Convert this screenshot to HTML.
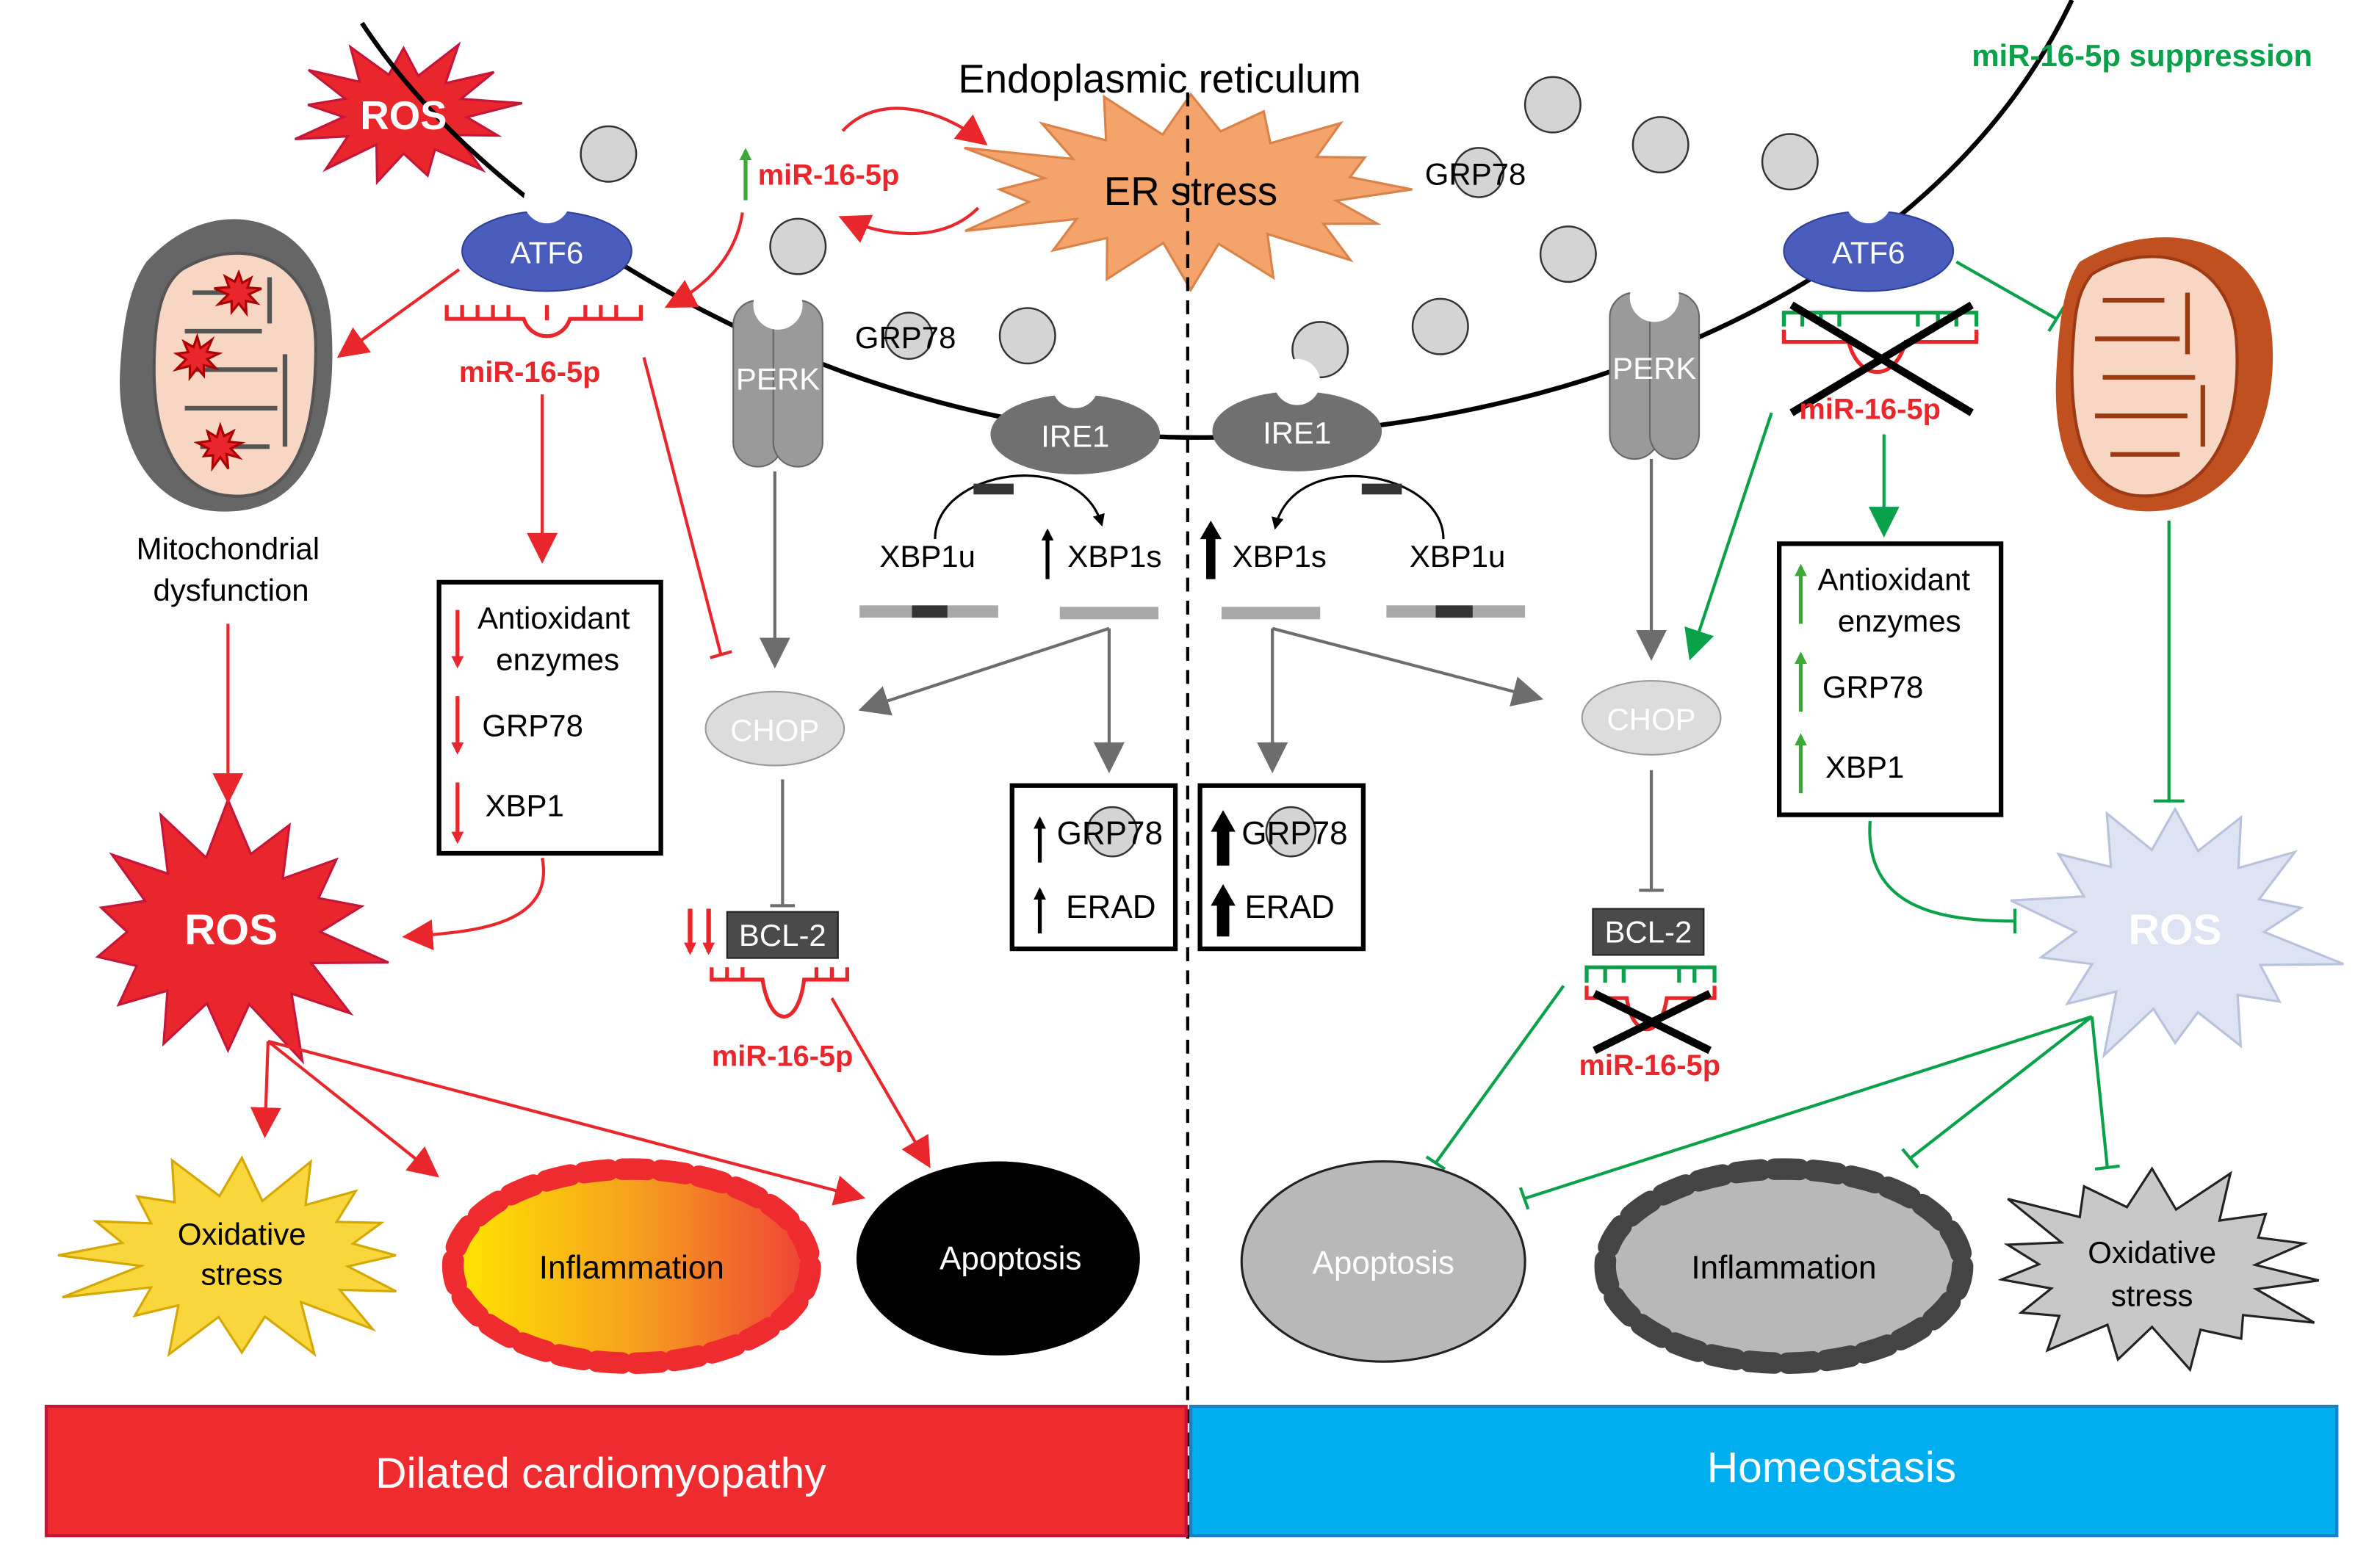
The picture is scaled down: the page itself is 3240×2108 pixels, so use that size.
<!DOCTYPE html>
<html><head><meta charset="utf-8"><style>
html,body{margin:0;padding:0;background:#fff;}
svg{display:block;font-family:"Liberation Sans",Arial,sans-serif;}
</style></head><body>
<svg id="s" width="3240" height="2108" viewBox="0 0 1545 1005" preserveAspectRatio="none" xmlns="http://www.w3.org/2000/svg">
<defs>
<marker id="ar" markerWidth="8" markerHeight="8" refX="6" refY="4" orient="auto" markerUnits="userSpaceOnUse" viewBox="0 0 8 8"><path d="M0,0L8,4L0,8z" fill="#e8262b"/></marker>
<marker id="ag" markerWidth="8" markerHeight="8" refX="6" refY="4" orient="auto" markerUnits="userSpaceOnUse" viewBox="0 0 8 8"><path d="M0,0L8,4L0,8z" fill="#3aa935"/></marker>
<marker id="arB" markerWidth="20" markerHeight="20" refX="16" refY="10" orient="auto" markerUnits="userSpaceOnUse" viewBox="0 0 20 20"><path d="M0,0L20,10L0,20z" fill="#e8262b"/></marker>
<marker id="agB" markerWidth="20" markerHeight="20" refX="16" refY="10" orient="auto" markerUnits="userSpaceOnUse" viewBox="0 0 20 20"><path d="M0,0L20,10L0,20z" fill="#0aa14b"/></marker>
<marker id="gyB" markerWidth="20" markerHeight="20" refX="16" refY="10" orient="auto" markerUnits="userSpaceOnUse" viewBox="0 0 20 20"><path d="M0,0L20,10L0,20z" fill="#6d6d6d"/></marker>
<marker id="bk" markerWidth="8" markerHeight="8" refX="6" refY="4" orient="auto" markerUnits="userSpaceOnUse" viewBox="0 0 8 8"><path d="M0,0L8,4L0,8z" fill="#000"/></marker>
<linearGradient id="gi" x1="0" x2="1"><stop offset="0" stop-color="#ffe600"/><stop offset="0.5" stop-color="#f6a21d"/><stop offset="1" stop-color="#ee4136"/></linearGradient>
</defs>
<g id="stars"></g>
<path d="M235,15 C330,160 560,282 770,284 C1010,286 1255,190 1345,0" fill="none" stroke="#000" stroke-width="3"/>
<line x1="771" y1="60" x2="771" y2="1000" stroke="#000" stroke-width="2" stroke-dasharray="9,6"/>
<text x="622" y="60" font-size="26">Endoplasmic reticulum</text>
<g fill="#d4d4d4" stroke="#333" stroke-width="1.2">
<circle cx="395" cy="100" r="18"/><circle cx="518" cy="160" r="18"/><circle cx="667" cy="218" r="18"/><circle cx="590" cy="218" r="15"/>
<circle cx="1008" cy="68" r="18"/><circle cx="1078" cy="94" r="18"/><circle cx="1162" cy="105" r="18"/><circle cx="960" cy="112" r="16"/>
<circle cx="1018" cy="165" r="18"/><circle cx="935" cy="212" r="18"/><circle cx="857" cy="227" r="18"/>
<circle cx="722" cy="540" r="16"/><circle cx="838" cy="540" r="16"/>
</g>
<g font-size="20"><text x="555" y="226">GRP78</text><text x="925" y="120">GRP78</text></g>
<ellipse cx="355" cy="163" rx="55" ry="26" fill="#4a5dbd" stroke="#2f3f95"/>
<circle cx="355" cy="130" r="15" fill="#fff"/>
<text x="355" y="171" font-size="20" fill="#fff" text-anchor="middle">ATF6</text>
<ellipse cx="1213" cy="163" rx="55" ry="26" fill="#4a5dbd" stroke="#2f3f95"/>
<circle cx="1213" cy="130" r="15" fill="#fff"/>
<text x="1213" y="171" font-size="20" fill="#fff" text-anchor="middle">ATF6</text>
<g fill="#9a9a9a" stroke="#666">
<rect x="476" y="195" width="32" height="108" rx="16"/><rect x="502" y="195" width="32" height="108" rx="16"/>
<rect x="1045" y="190" width="32" height="108" rx="16"/><rect x="1071" y="190" width="32" height="108" rx="16"/>
</g>
<circle cx="505" cy="198" r="16" fill="#fff"/><circle cx="1074" cy="193" r="16" fill="#fff"/>
<text x="505" y="253" font-size="20" fill="#fff" text-anchor="middle">PERK</text>
<text x="1074" y="246" font-size="20" fill="#fff" text-anchor="middle">PERK</text>
<ellipse cx="698" cy="282" rx="55" ry="26" fill="#707070"/><circle cx="698" cy="250" r="15" fill="#fff"/>
<text x="698" y="290" font-size="20" fill="#fff" text-anchor="middle">IRE1</text>
<ellipse cx="842" cy="280" rx="55" ry="26" fill="#707070"/><circle cx="842" cy="248" r="15" fill="#fff"/>
<text x="842" y="288" font-size="20" fill="#fff" text-anchor="middle">IRE1</text>
<path d="M607,350 C607,305 700,290 715,340" fill="none" stroke="#000" stroke-width="1.5" marker-end="url(#bk)"/>
<rect x="632" y="314" width="26" height="7" fill="#333"/>
<path d="M937,350 C937,305 840,290 828,342" fill="none" stroke="#000" stroke-width="1.5" marker-end="url(#bk)"/>
<rect x="884" y="314" width="26" height="7" fill="#333"/>
<g font-size="20"><text x="571" y="368">XBP1u</text><text x="693" y="368">XBP1s</text><text x="800" y="368">XBP1s</text><text x="915" y="368">XBP1u</text></g>
<line x1="680" y1="376" x2="680" y2="345" stroke="#000" stroke-width="2.5" marker-end="url(#bk)"/>
<path d="M779,350 L786,338 L793,350 L789,350 L789,376 L783,376 L783,350z" fill="#000"/>
<g stroke-width="8">
<line x1="558" y1="397" x2="648" y2="397" stroke="#a8a8a8"/><line x1="592" y1="397" x2="615" y2="397" stroke="#333"/>
<line x1="688" y1="398" x2="752" y2="398" stroke="#a8a8a8"/>
<line x1="793" y1="398" x2="857" y2="398" stroke="#a8a8a8"/>
<line x1="900" y1="397" x2="990" y2="397" stroke="#a8a8a8"/><line x1="932" y1="397" x2="956" y2="397" stroke="#333"/>
</g>
<g stroke="#6d6d6d" stroke-width="2" fill="none">
<line x1="503" y1="306" x2="503" y2="430" marker-end="url(#gyB)"/>
<polyline points="720,408 561,460" marker-end="url(#gyB)"/>
<polyline points="720,408 720,498" marker-end="url(#gyB)"/>
<polyline points="826,408 826,498" marker-end="url(#gyB)"/>
<polyline points="826,408 998,453" marker-end="url(#gyB)"/>
<line x1="1072" y1="298" x2="1072" y2="425" marker-end="url(#gyB)"/>
<line x1="508" y1="506" x2="508" y2="588"/><line x1="500" y1="588" x2="516" y2="588"/>
<line x1="1072" y1="500" x2="1072" y2="578"/><line x1="1064" y1="578" x2="1080" y2="578"/>
</g>
<ellipse cx="503" cy="473" rx="45" ry="24" fill="#dcdcdc" stroke="#999"/><text x="503" y="481" font-size="20" fill="#fff" text-anchor="middle">CHOP</text>
<ellipse cx="1072" cy="466" rx="45" ry="24" fill="#dcdcdc" stroke="#999"/><text x="1072" y="474" font-size="20" fill="#fff" text-anchor="middle">CHOP</text>
<rect x="472" y="592" width="72" height="30" fill="#4a4a4a" stroke="#222"/><text x="508" y="614" font-size="20" fill="#fff" text-anchor="middle">BCL-2</text>
<rect x="1034" y="590" width="72" height="30" fill="#4a4a4a" stroke="#222"/><text x="1070" y="612" font-size="20" fill="#fff" text-anchor="middle">BCL-2</text>
<g fill="none" stroke="#000" stroke-width="3"><rect x="657" y="510" width="106" height="106"/><rect x="779" y="510" width="106" height="106"/>
<rect x="285" y="378" width="144" height="176"/><rect x="1155" y="353" width="144" height="176"/></g>
<g font-size="21"><text x="686" y="548">GRP78</text><text x="692" y="596">ERAD</text><text x="806" y="548">GRP78</text><text x="808" y="596">ERAD</text></g>
<line x1="675" y1="560" x2="675" y2="532" stroke="#000" stroke-width="2.5" marker-end="url(#bk)"/>
<line x1="675" y1="606" x2="675" y2="578" stroke="#000" stroke-width="2.5" marker-end="url(#bk)"/>
<path d="M786,540 L794,526 L802,540 L798,540 L798,562 L790,562 L790,540z" fill="#000"/>
<path d="M786,588 L794,574 L802,588 L798,588 L798,608 L790,608 L790,588z" fill="#000"/>
<g font-size="20"><text x="310" y="408">Antioxidant</text><text x="322" y="435">enzymes</text><text x="313" y="478">GRP78</text><text x="315" y="530">XBP1</text>
<text x="1180" y="383">Antioxidant</text><text x="1193" y="410">enzymes</text><text x="1183" y="453">GRP78</text><text x="1185" y="505">XBP1</text></g>
<g stroke="#e8262b" stroke-width="2.5"><line x1="297" y1="396" x2="297" y2="432" marker-end="url(#ar)"/><line x1="297" y1="452" x2="297" y2="488" marker-end="url(#ar)"/><line x1="297" y1="508" x2="297" y2="546" marker-end="url(#ar)"/></g>
<g stroke="#3aa935" stroke-width="2.5"><line x1="1169" y1="405" x2="1169" y2="368" marker-end="url(#ag)"/><line x1="1169" y1="462" x2="1169" y2="425" marker-end="url(#ag)"/><line x1="1169" y1="515" x2="1169" y2="478" marker-end="url(#ag)"/>
<line x1="484" y1="130" x2="484" y2="98" marker-end="url(#ag)"/></g>
<g stroke="#e8262b" stroke-width="3"><line x1="448" y1="590" x2="448" y2="618" marker-end="url(#ar)"/><line x1="460" y1="590" x2="460" y2="618" marker-end="url(#ar)"/></g>
<g fill="none" stroke="#e8262b" stroke-width="2.5">
<path d="M290,198 L290,207 L340,207 C345,222 365,222 370,207 L416,207 L416,198"/>
<path d="M300,198v9M310,198v9M320,198v9M330,198v9M380,198v9M390,198v9M400,198v9M355,198v10"/>
<path d="M462,628 L462,636 L495,636 C500,668 518,668 522,636 L550,636 L550,628"/>
<path d="M472,628v8M482,628v8M530,628v8M540,628v8"/>
<path d="M1158,214 L1158,222 L1200,222 C1207,248 1230,248 1237,222 L1283,222 L1283,214"/>
<path d="M1030,640 L1030,648 L1056,648 C1060,675 1078,675 1082,648 L1113,648 L1113,640"/>
</g>
<g fill="none" stroke="#0aa14b" stroke-width="2.5">
<path d="M1158,212 L1158,203 L1283,203 L1283,212M1170,203v9M1182,203v9M1194,203v9M1245,203v9M1258,203v9M1270,203v9"/>
<path d="M1030,638 L1030,628 L1113,628 L1113,638M1042,628v10M1054,628v10M1090,628v10M1100,628v10"/>
</g>
<g stroke="#000" stroke-width="5"><line x1="1163" y1="198" x2="1280" y2="268"/><line x1="1280" y1="198" x2="1163" y2="268"/>
<line x1="1035" y1="645" x2="1110" y2="682"/><line x1="1110" y1="645" x2="1035" y2="682"/></g>
<g fill="#e8262b" font-size="19" font-weight="bold"><text x="492" y="120">miR-16-5p</text><text x="298" y="248">miR-16-5p</text><text x="462" y="692">miR-16-5p</text>
<text x="1168" y="272">miR-16-5p</text><text x="1025" y="698">miR-16-5p</text></g>
<text x="1280" y="43" font-size="20" font-weight="bold" fill="#0aa14b">miR-16-5p suppression</text>
<g stroke="#e8262b" stroke-width="2" fill="none">
<path d="M547,85 C570,60 610,70 638,92" marker-end="url(#arB)"/>
<path d="M635,135 C610,160 570,152 548,142" marker-end="url(#arB)"/>
<path d="M482,138 C478,165 460,185 435,198" marker-end="url(#arB)"/>
<line x1="298" y1="175" x2="222" y2="230" marker-end="url(#arB)"/>
<line x1="352" y1="256" x2="352" y2="362" marker-end="url(#arB)"/>
<line x1="418" y1="232" x2="468" y2="425"/><line x1="461" y1="427" x2="475" y2="423"/>
<line x1="148" y1="405" x2="148" y2="518" marker-end="url(#arB)"/>
<path d="M352,557 C360,600 310,605 265,608" marker-end="url(#arB)"/>
<line x1="174" y1="676" x2="172" y2="735" marker-end="url(#arB)"/>
<line x1="174" y1="676" x2="282" y2="762" marker-end="url(#arB)"/>
<line x1="174" y1="676" x2="558" y2="777" marker-end="url(#arB)"/>
<line x1="540" y1="648" x2="602" y2="755" marker-end="url(#arB)"/>
</g>
<g stroke="#0aa14b" stroke-width="2" fill="none">
<line x1="1270" y1="170" x2="1335" y2="207"/><line x1="1330" y1="215" x2="1340" y2="199"/>
<line x1="1223" y1="282" x2="1223" y2="345" marker-end="url(#agB)"/>
<line x1="1150" y1="268" x2="1098" y2="425" marker-end="url(#agB)"/>
<line x1="1408" y1="338" x2="1408" y2="520"/><line x1="1398" y1="520" x2="1418" y2="520"/>
<path d="M1214,533 C1210,590 1260,598 1308,598"/><line x1="1308" y1="590" x2="1308" y2="606"/>
<line x1="1015" y1="640" x2="932" y2="755"/><line x1="926" y1="751" x2="938" y2="759"/>
<line x1="1358" y1="660" x2="990" y2="778"/><line x1="987" y1="771" x2="992" y2="785"/>
<line x1="1358" y1="660" x2="1240" y2="752"/><line x1="1235" y1="746" x2="1245" y2="758"/>
<line x1="1358" y1="660" x2="1368" y2="758"/><line x1="1360" y1="759" x2="1376" y2="757"/>
</g>
<g>
<path d="M95,170 C140,120 210,140 215,210 C220,280 200,330 150,332 C100,335 75,290 78,240 C80,205 85,185 95,170z" fill="#666"/>
<path d="M118,175 C160,150 205,170 205,225 C205,285 190,325 150,322 C115,320 100,285 100,240 C100,205 105,185 118,175z" fill="#f7d6c4" stroke="#555" stroke-width="2"/>
<path d="M125,190 h25 M120,215 h50 M125,240 h55 M120,265 h60 M130,290 h45 M175,180 v30 M185,230 v60" stroke="#555" stroke-width="3" fill="none"/>
</g>
<g id="spots"></g>
<g>
<path d="M1350,170 C1400,140 1470,150 1475,220 C1480,290 1440,332 1395,332 C1345,332 1332,290 1335,240 C1337,205 1340,185 1350,170z" fill="#c0501f"/>
<path d="M1358,178 C1395,155 1450,165 1452,225 C1455,285 1430,322 1392,322 C1355,322 1345,285 1345,240 C1346,205 1348,190 1358,178z" fill="#f7d6c4" stroke="#9c3a14" stroke-width="2"/>
<path d="M1365,195 h40 M1360,220 h55 M1365,245 h60 M1360,270 h60 M1370,295 h45 M1420,190 v40 M1430,250 v40" stroke="#9c3a14" stroke-width="3" fill="none"/>
</g>
<text x="148" y="363" font-size="20" text-anchor="middle">Mitochondrial</text>
<text x="150" y="390" font-size="20" text-anchor="middle">dysfunction</text>
<ellipse cx="410" cy="822" rx="116" ry="63" fill="url(#gi)" stroke="#ee2b2f" stroke-width="14" stroke-dasharray="16,9" stroke-linecap="round"/>
<text x="410" y="830" font-size="21" text-anchor="middle">Inflammation</text>
<ellipse cx="648" cy="817" rx="92" ry="63" fill="#000"/>
<text x="656" y="824" font-size="21" fill="#fff" text-anchor="middle">Apoptosis</text>
<ellipse cx="898" cy="819" rx="92" ry="65" fill="#b8b8b8" stroke="#222" stroke-width="1.5"/>
<text x="898" y="827" font-size="21" fill="#fff" text-anchor="middle">Apoptosis</text>
<ellipse cx="1158" cy="822" rx="116" ry="63" fill="#b8b8b8" stroke="#444" stroke-width="14" stroke-dasharray="16,9" stroke-linecap="round"/>
<text x="1158" y="830" font-size="21" text-anchor="middle">Inflammation</text>
<rect x="30" y="913" width="740" height="84" fill="#ee2b2f" stroke="#c4163a" stroke-width="2"/>
<text x="390" y="966" font-size="28" fill="#fff" text-anchor="middle">Dilated cardiomyopathy</text>
<rect x="773" y="913" width="744" height="84" fill="#00aeef" stroke="#1a7fc4" stroke-width="2"/>
<text x="1189" y="962" font-size="28" fill="#fff" text-anchor="middle">Homeostasis</text>
<g id="labels">
<text x="262" y="84" font-size="26" font-weight="bold" fill="#fff" text-anchor="middle">ROS</text>
<text x="773" y="133" font-size="26" text-anchor="middle">ER stress</text>
<text x="150" y="613" font-size="28" font-weight="bold" fill="#fff" text-anchor="middle">ROS</text>
<text x="1412" y="613" font-size="28" font-weight="bold" fill="#fff" text-anchor="middle">ROS</text>
<text x="157" y="808" font-size="20" text-anchor="middle">Oxidative</text><text x="157" y="834" font-size="20" text-anchor="middle">stress</text>
<text x="1397" y="820" font-size="20" text-anchor="middle">Oxidative</text><text x="1397" y="848" font-size="20" text-anchor="middle">stress</text>
</g>
</svg>
<script>
(function(){
function star(gid,cx,cy,rx,ry,irx,iry,n,fill,stroke,seed){
 var g=document.getElementById(gid);
 var p=[],s=seed||1;
 function rnd(){s=(s*9301+49297)%233280;return s/233280;}
 for(var i=0;i<2*n;i++){var a=i*Math.PI/n-Math.PI/2;var o=i%2==0;var k=o?(0.85+0.3*rnd()):(0.9+0.2*rnd());
  var x=cx+Math.cos(a)*(o?rx:irx)*k,y=cy+Math.sin(a)*(o?ry:iry)*k;p.push(x.toFixed(1)+','+y.toFixed(1));}
 var e=document.createElementNS('http://www.w3.org/2000/svg','polygon');
 e.setAttribute('points',p.join(' '));e.setAttribute('fill',fill);e.setAttribute('stroke',stroke);e.setAttribute('stroke-width','1.5');g.appendChild(e);}
star('stars',262,73,68,44,42,26,13,'#e8262b','#c4163a',3);
star('stars',773,123,140,62,98,38,16,'#f4a46a','#d9824a',7);
star('stars',148,605,98,82,62,48,14,'#e8262b','#c4163a',11);
star('stars',1412,605,98,82,62,50,14,'#dde3f3','#b9c2dd',5);
star('stars',157,815,110,62,72,38,16,'#f9d63c','#d4a800',9);
star('stars',1397,825,112,62,74,40,15,'#c8c8c8','#222',13);
star('spots',155,190,14,14,7,7,9,'#e8262b','#a00',2);
star('spots',128,232,14,14,7,7,9,'#e8262b','#a00',4);
star('spots',143,290,14,14,7,7,9,'#e8262b','#a00',6);
})();
</script>
</body></html>
